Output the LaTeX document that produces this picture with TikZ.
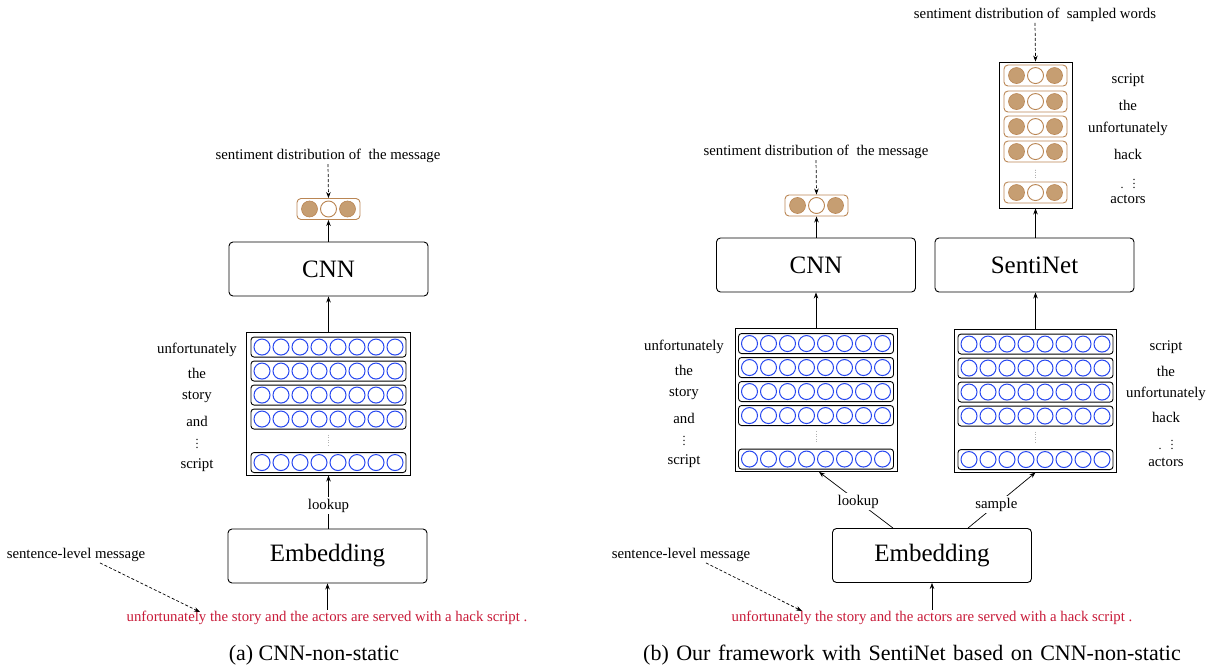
\documentclass[tikz,border=0pt]{standalone}
\usepackage{fontspec}
\setmainfont{Liberation Serif}
\usetikzlibrary{arrows.meta}

\definecolor{sentifill}{RGB}{198,158,114}
\definecolor{sentiedge}{RGB}{186,134,84}
\definecolor{unitblue}{RGB}{40,72,240}
\definecolor{wordred}{RGB}{200,26,56}

\tikzset{
  block/.style={draw, rounded corners=4pt, line width=0.9pt, minimum width=199pt,
    minimum height=54pt, inner sep=0pt, font=\fontsize{25}{30}\selectfont},
  matbox/.style={draw, line width=0.9pt, minimum width=164pt, minimum height=143pt, inner sep=0pt},
  tallbox/.style={draw, line width=0.9pt, minimum width=73pt, minimum height=146pt, inner sep=0pt},
  vecrow/.style={draw, rounded corners=3pt, line width=0.9pt, minimum width=155pt,
    minimum height=20pt, inner sep=0pt},
  outrow/.style={draw=sentiedge, rounded corners=4pt, line width=0.9pt, minimum width=63pt,
    minimum height=21pt, inner sep=0pt},
  unit/.style={circle, draw=unitblue, line width=1pt, minimum size=16pt, inner sep=0pt},
  sfull/.style={circle, draw=sentiedge, fill=sentifill, line width=0.6pt, minimum size=16pt, inner sep=0pt},
  sempty/.style={circle, draw=sentiedge, fill=white, line width=0.9pt, minimum size=16pt, inner sep=0pt},
  lbl/.style={font=\fontsize{14.8}{17}\selectfont, inner sep=1pt},
  dotlbl/.style={font=\fontsize{12}{14}\selectfont, inner sep=0pt},
  redtext/.style={lbl, text=wordred},
  subcap/.style={font=\fontsize{22}{26}\selectfont, inner sep=0pt},
  arr/.style={-{Stealth[length=6pt,width=4.5pt]}, line width=0.7pt},
  darr/.style={arr, densely dashed},
  cut/.style={lbl, fill=white, inner sep=2pt},
  vdots/.style={gray!60, line width=0.6pt, dotted},
}

% rows of word vectors inside a lookup matrix (#1 = matrix node name)
\newcommand\wordvectors[1]{%
  \begin{scope}[shift={(#1.north)}]
    \foreach \r/\yy in {1/15.5,2/39.5,3/63.5,4/87.5,5/131}{
      \node[vecrow] (#1-row\r) at (0,\yy) {};
      \foreach \k in {0,...,7}
        \node[unit] (#1-u\r-\k) at ({-66.5+19*\k},\yy) {};
    }
    \draw[vdots] (0,103) -- (0,114);
  \end{scope}}

% one three-way sentiment distribution at position #1, named #2
\newcommand\sentidist[2]{%
  \node[outrow] (#2) at #1 {};
  \node[sfull]  (#2-neg) at ([xshift=-19pt]#2.center) {};
  \node[sempty] (#2-neu) at (#2.center) {};
  \node[sfull]  (#2-pos) at ([xshift=19pt]#2.center) {};}

\begin{document}
\begin{tikzpicture}[x=1pt, y=-1pt]
\useasboundingbox (0,0) rectangle (1215,668);

% ---------------- (a) CNN-non-static ----------------
\node[lbl] (topA) at (328,156) {sentiment distribution of\ \ the message};
\sentidist{(328.5,209)}{distA}
\node[block] (cnnA) at (328.5,269) {CNN};
\node[matbox] (matA) at (328.5,403.5) {};
\wordvectors{matA}
\node[block] (embA) at (327.5,556) {Embedding};
\node[redtext] (sentA) at (327,618) {unfortunately the story and the actors are served with a hack script .};
\node[lbl] (slA) at (76,555) {sentence-level message};
\coordinate (tipA) at (200,612);

\foreach \w/\yy in {unfortunately/350, the/373, story/397, and/421, script/465}
  \node[lbl] (wA-\w) at (197,\yy) {\w};
\node[dotlbl] (wA-dots) at (197,441) {$\vdots$};

\draw[darr] (topA.south) -- (distA.north);
\draw[arr] (cnnA.north -| distA.south) -- (distA.south);
\draw[arr] (matA.north) -- (cnnA.south -| matA.north);
\draw[arr] (embA.north -| matA.south) -- node[cut, pos=0.43] (lookA) {lookup} (matA.south);
\draw[arr] (sentA.north -| embA.south) -- (embA.south);
\draw[darr] ([xshift=24pt]slA.south) -- (tipA);

\node[subcap] (capA) at (314,655) {(a) CNN-non-static};

% ---------------- (b) framework with SentiNet ----------------
\node[lbl] (topB) at (816,152) {sentiment distribution of\ \ the message};
\sentidist{(816.5,205.5)}{distB}
\node[block] (cnnB) at (816,265) {CNN};
\node[block] (sentiB) at (1034.5,265) {SentiNet};
\node[matbox, minimum width=162pt] (matC) at (816,400) {};
\wordvectors{matC}
\node[matbox, minimum width=162pt] (matS) at (1035.5,400.5) {};
\wordvectors{matS}
\node[block] (embB) at (932,555.5) {Embedding};
\node[redtext] (sentB) at (932,618) {unfortunately the story and the actors are served with a hack script .};
\node[lbl] (slB) at (681,555) {sentence-level message};
\coordinate (tipB) at (802,611);

% sampled-word sentiment column
\node[lbl] (topS) at (1035,15) {sentiment distribution of\ \ sampled words};
\node[tallbox] (colS) at (1035.5,135) {};
\begin{scope}[shift={(colS.north)}]
  \foreach \r/\yy in {1/14,2/40,3/65,4/90,5/131}
    \sentidist{(0,\yy)}{colS-d\r}
  \draw[vdots] (0,108) -- (0,116);
\end{scope}

\foreach \w/\yy in {script/80, the/105, unfortunately/129, hack/154, actors/199}
  \node[lbl] (wT-\w) at (1128,\yy) {\w};
\node[dotlbl] (wT-dots) at (1128,181) {.\hspace{9pt}$\vdots$};

\foreach \w/\yy in {unfortunately/347, the/370, story/394, and/418, script/461}
  \node[lbl] (wC-\w) at (684,\yy) {\w};
\node[dotlbl] (wC-dots) at (684,438) {$\vdots$};

\foreach \w/\yy in {script/347, the/371, unfortunately/394, hack/417, actors/462}
  \node[lbl] (wS-\w) at (1166,\yy) {\w};
\node[dotlbl] (wS-dots) at (1166,442) {.\hspace{9pt}$\vdots$};

\draw[darr] (topB.south) -- (distB.north);
\draw[arr] (cnnB.north -| distB.south) -- (distB.south);
\draw[darr] (topS.south) -- (colS.north);
\draw[arr] (sentiB.north -| colS.south) -- (colS.south);
\draw[arr] (matC.north) -- (cnnB.south -| matC.north);
\draw[arr] (matS.north) -- (sentiB.south -| matS.north);
\draw[arr] ([xshift=-39pt]embB.north) -- node[cut, pos=0.47] (lookB) {lookup} ([xshift=3pt]matC.south);
\draw[arr] ([xshift=36pt]embB.north) -- node[cut, pos=0.42] (sampB) {sample} (matS.south);
\draw[arr] (sentB.north -| embB.south) -- (embB.south);
\draw[darr] ([xshift=25pt]slB.south) -- (tipB);

\node[subcap] (capB) at (912,655) {\spaceskip=7.5pt plus 1pt(b) Our framework with SentiNet based on CNN-non-static};
\end{tikzpicture}
\end{document}
